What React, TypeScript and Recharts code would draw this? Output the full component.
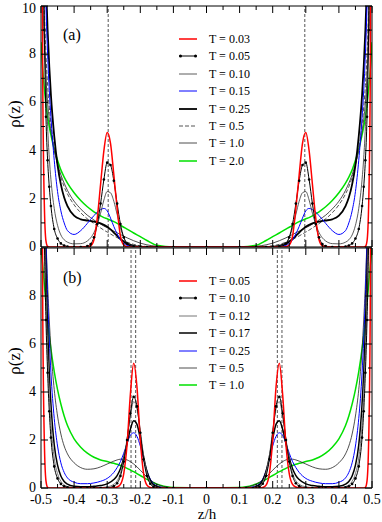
import React from "react";
import { LineChart, Line, XAxis, YAxis, ReferenceLine } from "recharts";

const serif = "'Liberation Serif', 'Times New Roman', Times, 'DejaVu Serif', serif";

// panel (a): z/h grid for the left half, profiles are symmetric about z = 0
const zA = [-0.5, -0.495, -0.49, -0.485, -0.48, -0.475, -0.47, -0.46, -0.45, -0.44, -0.43, -0.42, -0.4, -0.38, -0.36, -0.35, -0.34, -0.33, -0.32, -0.31, -0.3, -0.29, -0.28, -0.27, -0.26, -0.25, -0.24, -0.22, -0.2, -0.18, -0.15, -0.1, 0];
const rhoA003 = [30, 7.5, 1.8, 0.25, 0.02, 0, 0, 0, 0, 0, 0, 0, 0, 0, 0.01, 0.05, 0.3, 1.2, 2.6, 4.0, 4.75, 4.3, 3.0, 1.6, 0.45, 0.08, 0.01, 0, 0, 0, 0, 0, 0];
const rhoA005 = [40, 14, 9, 5.4, 3.6, 2.5, 1.7, 0.75, 0.35, 0.15, 0.06, 0.02, 0, 0, 0.04, 0.12, 0.4, 0.95, 1.8, 2.8, 3.5, 3.4, 2.75, 1.8, 0.95, 0.4, 0.14, 0.01, 0, 0, 0, 0, 0];
const rhoA010 = [40, 16, 10, 7, 5, 3.7, 2.8, 1.6, 0.9, 0.5, 0.3, 0.2, 0.13, 0.14, 0.25, 0.38, 0.6, 0.95, 1.4, 1.95, 2.3, 2.25, 1.9, 1.35, 0.8, 0.4, 0.18, 0.03, 0, 0, 0, 0, 0];
const rhoA015 = [40, 18, 13, 10, 8, 6.5, 5.4, 3.6, 2.3, 1.5, 1.0, 0.68, 0.52, 0.68, 0.98, 1.15, 1.3, 1.45, 1.55, 1.6, 1.5, 1.2, 0.85, 0.55, 0.3, 0.15, 0.07, 0.02, 0, 0, 0, 0, 0];
const rhoA025 = [40, 20, 14, 11, 9, 7.5, 6.3, 4.6, 3.4, 2.6, 2.05, 1.7, 1.3, 1.15, 1.1, 1.08, 1.05, 1.02, 0.98, 0.92, 0.84, 0.73, 0.6, 0.46, 0.33, 0.22, 0.14, 0.05, 0.01, 0, 0, 0, 0];
const rhoA05 = [30, 14, 10, 8, 6.7, 5.8, 5.1, 4.1, 3.4, 2.9, 2.5, 2.2, 1.75, 1.42, 1.17, 1.07, 0.97, 0.88, 0.79, 0.7, 0.62, 0.54, 0.46, 0.39, 0.32, 0.26, 0.2, 0.11, 0.05, 0.02, 0, 0, 0];
const rhoA10 = [20, 11, 8.5, 7, 6, 5.3, 4.8, 4.0, 3.45, 3.0, 2.65, 2.35, 1.9, 1.58, 1.32, 1.22, 1.12, 1.03, 0.95, 0.87, 0.8, 0.73, 0.66, 0.59, 0.52, 0.45, 0.38, 0.26, 0.16, 0.09, 0.03, 0, 0];
const rhoA20 = [8.5, 7.4, 6.6, 5.9, 5.4, 5.0, 4.65, 4.05, 3.6, 3.2, 2.9, 2.65, 2.25, 1.93, 1.67, 1.56, 1.46, 1.37, 1.29, 1.22, 1.17, 1.11, 1.05, 0.98, 0.9, 0.82, 0.74, 0.58, 0.43, 0.27, 0.07, 0, 0];
const tempsA = ["0.03", "0.05", "0.10", "0.15", "0.25", "0.5", "1.0", "2.0"];
const peakLinesA = [-0.297, 0.297];

// panel (b)
const zB = [-0.5, -0.495, -0.49, -0.485, -0.48, -0.475, -0.47, -0.46, -0.45, -0.44, -0.43, -0.42, -0.4, -0.38, -0.36, -0.34, -0.32, -0.3, -0.28, -0.27, -0.26, -0.25, -0.24, -0.23, -0.22, -0.21, -0.2, -0.19, -0.18, -0.17, -0.16, -0.14, -0.12, -0.1, 0];
const rhoB005 = [30, 8, 2, 0.3, 0.03, 0, 0, 0, 0, 0, 0, 0, 0, 0, 0, 0, 0, 0, 0.01, 0.04, 0.15, 0.6, 1.8, 3.9, 5.2, 4.2, 2.0, 0.6, 0.12, 0.02, 0, 0, 0, 0, 0];
const rhoB010 = [40, 16, 10.5, 7, 4.8, 3.2, 2.1, 0.9, 0.4, 0.17, 0.07, 0.03, 0.01, 0, 0, 0, 0, 0.01, 0.08, 0.2, 0.5, 1.1, 2.0, 3.1, 3.8, 3.4, 2.3, 1.2, 0.5, 0.18, 0.05, 0, 0, 0, 0];
const rhoB012 = [40, 17, 11.5, 8, 5.6, 3.9, 2.7, 1.25, 0.6, 0.28, 0.13, 0.06, 0.02, 0.01, 0, 0.01, 0.02, 0.05, 0.16, 0.3, 0.62, 1.2, 2.05, 3.0, 3.6, 3.3, 2.4, 1.35, 0.62, 0.25, 0.08, 0.01, 0, 0, 0];
const rhoB017 = [40, 18, 12.5, 9, 6.6, 4.8, 3.5, 1.8, 0.95, 0.5, 0.27, 0.16, 0.07, 0.05, 0.05, 0.07, 0.1, 0.17, 0.35, 0.52, 0.8, 1.25, 1.85, 2.45, 2.8, 2.65, 2.05, 1.3, 0.7, 0.33, 0.13, 0.02, 0, 0, 0];
const rhoB025 = [40, 20, 14, 10.5, 8, 6.2, 4.8, 2.9, 1.75, 1.05, 0.65, 0.42, 0.24, 0.18, 0.18, 0.21, 0.28, 0.4, 0.65, 0.85, 1.1, 1.45, 1.85, 2.2, 2.3, 2.15, 1.75, 1.2, 0.72, 0.38, 0.18, 0.04, 0.01, 0, 0];
const rhoB05 = [30, 18, 13.5, 10.5, 8.5, 7, 5.8, 4.1, 3.0, 2.25, 1.75, 1.42, 1.05, 0.85, 0.78, 0.8, 0.88, 1.0, 1.12, 1.17, 1.2, 1.2, 1.17, 1.1, 1.0, 0.88, 0.74, 0.6, 0.46, 0.34, 0.24, 0.1, 0.04, 0.01, 0];
const rhoB10 = [10, 9.3, 8.5, 7.7, 7.0, 6.35, 5.8, 4.85, 4.1, 3.5, 3.0, 2.6, 2.05, 1.7, 1.45, 1.28, 1.17, 1.1, 1.03, 0.99, 0.94, 0.88, 0.82, 0.75, 0.68, 0.6, 0.52, 0.44, 0.36, 0.29, 0.22, 0.12, 0.05, 0.02, 0];
const tempsB = ["0.05", "0.10", "0.12", "0.17", "0.25", "0.5", "1.0"];
const peakLinesB = [-0.228, -0.214, 0.214, 0.228];

const xMajor = [-0.5, -0.4, -0.3, -0.2, -0.1, 0, 0.1, 0.2, 0.3, 0.4, 0.5];
const xMinor = [-0.45, -0.35, -0.25, -0.15, -0.05, 0.05, 0.15, 0.25, 0.35, 0.45];
const yMajorA = [0, 2, 4, 6, 8, 10];
const yMajorB = [0, 2, 4, 6, 8];
const yMinor = [1, 3, 5, 7, 9];

type Style = { stroke: string; width: number; dash?: string; dots?: boolean };

const stylesA: Style[] = [
  { stroke: "#ff0000", width: 1.5 },
  { stroke: "#000", width: 1, dots: true },
  { stroke: "#333", width: 0.8 },
  { stroke: "#0000ff", width: 1 },
  { stroke: "#000", width: 1.8 },
  { stroke: "#555", width: 1, dash: "4 2" },
  { stroke: "#222", width: 0.8 },
  { stroke: "#00e000", width: 1.5 },
];
const stylesB: Style[] = [
  { stroke: "#ff0000", width: 1.5 },
  { stroke: "#000", width: 1, dots: true },
  { stroke: "#777", width: 1 },
  { stroke: "#000", width: 1.5 },
  { stroke: "#0000ff", width: 1 },
  { stroke: "#222", width: 0.8 },
  { stroke: "#00e000", width: 1.5 },
];

// mirror the left half onto z > 0
const profile = (zs: number[], vals: number[]) => {
  const left = zs.map((z, i) => ({ z, rho: vals[i] }));
  const right = zs
    .slice(0, -1)
    .map((z, i) => ({ z: -z, rho: vals[i] }))
    .reverse();
  return [...left, ...right];
};

const onStep = (v: number, step: number) => Math.abs(v / step - Math.round(v / step)) < 1e-6;

const xTick = (side: "top" | "bottom", labels: boolean) => (props: any) => {
  const { x, y, payload } = props;
  const v = payload.value as number;
  const major = onStep(v, 0.1);
  const len = major ? 7 : 4;
  const dir = side === "bottom" ? -1 : 1;
  return (
    <g>
      <line x1={x} x2={x} y1={y} y2={y + dir * len} stroke="#000" />
      {labels && major ? (
        <text x={x} y={y + 16} textAnchor="middle" fontSize={14} fontFamily={serif} fill="#000">
          {v === 0 ? "0" : v.toFixed(1)}
        </text>
      ) : null}
    </g>
  );
};

const yTick = (side: "left" | "right", labels: boolean) => (props: any) => {
  const { x, y, payload } = props;
  const v = payload.value as number;
  const major = onStep(v, 2);
  const len = major ? 7 : 4;
  const dir = side === "left" ? 1 : -1;
  // keep the topmost label inside the picture
  const ty = Math.max(y + 4, 13);
  return (
    <g>
      <line x1={x} x2={x + dir * len} y1={y} y2={y} stroke="#000" />
      {labels && major ? (
        <text x={x - 5} y={ty} textAnchor="end" fontSize={14} fontFamily={serif} fill="#000">
          {v}
        </text>
      ) : null}
    </g>
  );
};

function LegendBox({ left, top, temps, styles }: { left: number; top: number; temps: string[]; styles: Style[] }) {
  return (
    <div style={{ position: "absolute", left, top }}>
      {temps.map((t, i) => {
        const s = styles[i];
        return (
          <div key={t} style={{ height: 17.4, display: "flex", alignItems: "center" }}>
            <svg width={18} height={6} style={{ display: "block" }}>
              <line x1={0} x2={18} y1={3} y2={3} stroke={s.stroke} strokeWidth={s.width} strokeDasharray={s.dash} />
              {s.dots ? (
                <>
                  <circle cx={1.5} cy={3} r={1.5} fill="#000" />
                  <circle cx={16.5} cy={3} r={1.5} fill="#000" />
                </>
              ) : null}
            </svg>
            <span style={{ marginLeft: 12, fontFamily: serif, fontSize: 12, lineHeight: "12px", whiteSpace: "nowrap" }}>
              T = {t}
            </span>
          </div>
        );
      })}
    </div>
  );
}

type PanelProps = {
  top: number;
  height: number;
  bottomPad: number;
  z: number[];
  curves: number[][];
  styles: Style[];
  refLines: number[];
  yMajor: number[];
  xLabels: boolean;
};

function Panel({ top, height, bottomPad, z, curves, styles, refLines, yMajor, xLabels }: PanelProps) {
  const xTicks = [...xMajor, ...xMinor].sort((a, b) => a - b);
  const yTicks = [...yMajor, ...yMinor].sort((a, b) => a - b);
  const order = curves.map((_, i) => i).reverse();
  // axes get a 1px band so that Recharts draws them
  return (
    <div style={{ position: "absolute", left: 0, top, width: 382, height }}>
      <LineChart width={382} height={height} margin={{ top: 5, right: 9, bottom: bottomPad - 1, left: 40 }}>
        <XAxis xAxisId="b" dataKey="z" type="number" domain={[-0.5, 0.5]} allowDataOverflow ticks={xTicks} interval={0}
          height={1} tickSize={0} tickMargin={0} tickLine={false} tick={xTick("bottom", xLabels)} axisLine={{ stroke: "#000" }} />
        <XAxis xAxisId="t" orientation="top" dataKey="z" type="number" domain={[-0.5, 0.5]} allowDataOverflow ticks={xTicks}
          interval={0} height={1} tickSize={0} tickMargin={0} tickLine={false} tick={xTick("top", false)} axisLine={{ stroke: "#000" }} />
        <YAxis yAxisId="l" type="number" domain={[0, 10]} allowDataOverflow ticks={yTicks} interval={0} width={1}
          tickSize={0} tickMargin={0} tickLine={false} tick={yTick("left", true)} axisLine={{ stroke: "#000" }} />
        <YAxis yAxisId="r" orientation="right" type="number" domain={[0, 10]} allowDataOverflow ticks={yTicks} interval={0}
          width={1} tickSize={0} tickMargin={0} tickLine={false} tick={yTick("right", false)} axisLine={{ stroke: "#000" }} />
        {refLines.map((x) => (
          <ReferenceLine key={x} x={x} xAxisId="b" yAxisId="l" stroke="#555" strokeDasharray="3 2" />
        ))}
        {order.map((i) => {
          const s = styles[i];
          return (
            <Line
              key={i}
              xAxisId="b"
              yAxisId="l"
              data={profile(z, curves[i])}
              dataKey="rho"
              type="monotone"
              stroke={s.stroke}
              strokeWidth={s.width}
              strokeDasharray={s.dash}
              dot={s.dots ? { r: 1.3, fill: "#000", stroke: "none" } : false}
              activeDot={false}
              isAnimationActive={false}
            />
          );
        })}
      </LineChart>
    </div>
  );
}

const textStyle: React.CSSProperties = { position: "absolute", fontFamily: serif, color: "#000", whiteSpace: "nowrap" };

export default function App() {
  return (
    <div style={{ position: "absolute", left: 0, top: 0, width: 382, height: 522, background: "#fff", overflow: "hidden" }}>
      <Panel top={0} height={262} bottomPad={15} z={zA}
        curves={[rhoA003, rhoA005, rhoA010, rhoA015, rhoA025, rhoA05, rhoA10, rhoA20]}
        styles={stylesA} refLines={peakLinesA} yMajor={yMajorA} xLabels={false} />
      <Panel top={242} height={280} bottomPad={34} z={zB}
        curves={[rhoB005, rhoB010, rhoB012, rhoB017, rhoB025, rhoB05, rhoB10]}
        styles={stylesB} refLines={peakLinesB} yMajor={yMajorB} xLabels={true} />
      <LegendBox left={179} top={30.3} temps={tempsA} styles={stylesA} />
      <LegendBox left={179} top={272.3} temps={tempsB} styles={stylesB} />
      <div style={{ ...textStyle, left: 63, top: 26, fontSize: 16 }}>(a)</div>
      <div style={{ ...textStyle, left: 63, top: 269, fontSize: 16 }}>(b)</div>
      <div style={{ ...textStyle, left: 15, top: 114, fontSize: 17, transform: "translate(-50%, -50%) rotate(-90deg)" }}>ρ(z)</div>
      <div style={{ ...textStyle, left: 15, top: 361, fontSize: 17, transform: "translate(-50%, -50%) rotate(-90deg)" }}>ρ(z)</div>
      <div style={{ ...textStyle, left: 207, top: 514, fontSize: 15, lineHeight: "12px", transform: "translate(-50%, -50%)" }}>z/h</div>
    </div>
  );
}
